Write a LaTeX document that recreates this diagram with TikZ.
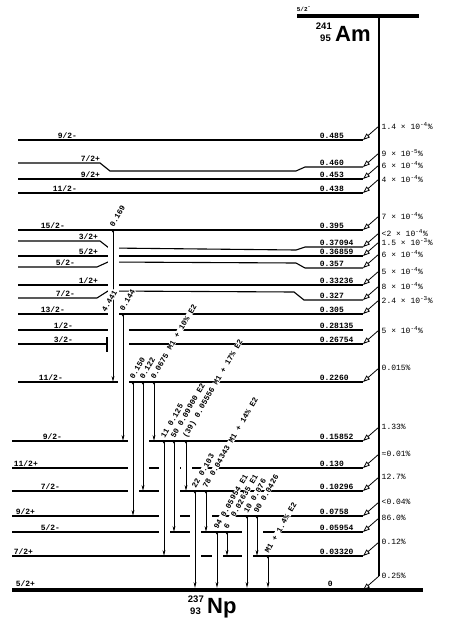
\documentclass[tikz,border=0pt]{standalone}
\usepackage{fontspec}
\newfontfamily\typ{Liberation Mono}
\newfontfamily\hel{Liberation Sans}
\usetikzlibrary{arrows.meta}

\begin{document}
\begin{tikzpicture}[x=1pt,y=-1pt,
  lev/.style={line width=1.1},
  gnd/.style={line width=4.5},
  halo/.style={white,line width=11},
  gam/.style={line width=0.8,{Triangle[reversed,length=2.6pt,width=3.8pt]}-{Stealth[length=6pt,width=2.8pt]}},
  feed/.style={line width=0.8,-{Triangle[open,length=7pt,width=5pt,line width=0.8pt]}},
  spn/.style={font=\typ\bfseries\fontsize{8}{9}\selectfont,anchor=south west,inner sep=0.6pt},
  pct/.style={font=\typ\fontsize{8}{9}\selectfont,anchor=west,inner sep=0.5pt},
  glab/.style={font=\typ\bfseries\fontsize{7.8}{9}\selectfont,rotate=60,anchor=south west,
    fill=white,inner sep=0.3pt,text height=5.2pt,text depth=0pt},
  nuc/.style={font=\hel\bfseries\fontsize{22}{24}\selectfont,inner sep=0},
  iso/.style={font=\hel\bfseries\fontsize{9.5}{10}\selectfont,inner sep=0}]
\useasboundingbox (0,0) rectangle (448,624);
% ---------- 241Am ----------
\draw[gnd,line width=4] (297,16) -- (419,16);
\node[spn,font=\typ\bfseries\fontsize{6}{7}\selectfont] (jam) at (296,12) {5/2\textsuperscript{-}};
\node[nuc,anchor=base west] (am) at (335,41) {Am};
\node[iso,anchor=base east] (ama) at (332,29) {241};
\node[iso,anchor=base east] (amz) at (331,41) {95};
\draw[line width=1.2] (379,16) -- (379,576);
% ---------- levels ----------
\foreach \y in {140,179,193,230,256,285,314,330,344,382}
  \draw[lev] (18,\y) -- (363,\y);
\foreach \y in {441,468,491,516,532,556}
  \draw[lev] (12,\y) -- (363,\y);
\draw[lev] (18,163) -- (100,163) -- (110,171) -- (296,171) -- (305,167) -- (363,167);
\draw[lev] (18,241) -- (100,241) -- (109,248) -- (296,250) -- (305,247) -- (363,247);
\draw[lev] (18,267) -- (97,267) -- (108,262) -- (296,263) -- (305,268) -- (363,268);
\draw[lev] (18,298) -- (97,298) -- (108,291) -- (294,292) -- (304,300) -- (363,300);
\draw[gnd] (12,590) -- (423,590);
% ---------- feeding from 241Am ----------
\foreach \y/\p in {140/{1.4 × 10\textsuperscript{-4}\%},167/{9 × 10\textsuperscript{-5}\%},
    179/{6 × 10\textsuperscript{-4}\%},193/{4 × 10\textsuperscript{-4}\%},230/{7 × 10\textsuperscript{-4}\%},
    247/{<2 × 10\textsuperscript{-4}\%},256/{1.5 × 10\textsuperscript{-3}\%},268/{6 × 10\textsuperscript{-4}\%},
    285/{5 × 10\textsuperscript{-4}\%},300/{8 × 10\textsuperscript{-4}\%},314/{2.4 × 10\textsuperscript{-3}\%},
    344/{5 × 10\textsuperscript{-4}\%},382/{0.015\%},441/{1.33\%},468/{≈0.01\%},491/{12.7\%},
    516/{<0.04\%},532/{86.0\%},556/{0.12\%},590/{0.25\%}}{
  \draw[feed] (379,\y-14) -- (363,\y);
  \node[pct] (p\y) at (381,\y-14) {\p};}
% ---------- gamma lines (white gaps first) ----------
\foreach \x/\a/\b in {113/230/382,123/314/441,133/382/516,143/382/491,154/382/441,
    164/441/556,174/441/532,186/441/491,195/491/588,206/491/532,217/532/588,
    227/532/556,247/516/588,257/516/556,268/556/588}
  \draw[halo] (\x,\a+3) -- (\x,\b-3);
\draw[lev] (107,337) -- (107,352);
\foreach \x/\a/\b in {113/230/382,123/314/441,133/382/516,143/382/491,154/382/441,
    164/441/556,174/441/532,186/441/491,195/491/588,206/491/532,217/532/588,
    227/532/556,247/516/588,257/516/556,268/556/588}
  \draw[gam] (\x,\a) -- (\x,\b);
\foreach \x/\a/\t in {113/230/0.169,123/314/0.144,133/382/0.150,143/382/0.122,
    154/382/{0.0675 M1 + 10\% E2},164/441/{11 0.125},174/441/{50 0.09900 E2},
    186/441/{(39) 0.05556 M1 + 17\% E2},195/491/{22 0.103},206/491/{78 0.04343 M1 + 14\% E2},
    217/532/{94 0.05954 E1},227/532/{6~~0.02635 E1},247/516/{10 0.076},257/516/{90 0.0426},
    268/556/{M1 + 1.4\% E2}}
  \node[glab] (g\x) at (\x+1,\a-2) {\t};
\node[glab] (gx) at (106,313) {4.441};
% ---------- spins and energies ----------
\foreach \n/\x/\y/\s in {485/57/140/{9/2-},460/80/163/{7/2+},453/80/179/{9/2+},438/52/193/{11/2-},
    395/40/230/{15/2-},37094/78/241/{3/2+},36859/78/256/{5/2+},357/55/267/{5/2-},
    33236/78/285/{1/2+},327/55/298/{7/2-},305/40/314/{13/2-},28135/53/330/{1/2-},
    26754/53/344/{3/2-},2260/38/382/{11/2-},15852/42/441/{9/2-},130/13/468/{11/2+},
    10296/40/491/{7/2-},0758/15/516/{9/2+},05954/40/532/{5/2-},03320/13/556/{7/2+},0/15/588/{5/2+}}
  \node[spn] (j\n) at (\x,\y-1) {\s};
\foreach \n/\y/\e in {485/140/0.485,460/167/0.460,453/179/0.453,438/193/0.438,395/230/0.395,
    37094/247/0.37094,36859/256/0.36859,357/268/0.357,33236/285/0.33236,327/300/0.327,
    305/314/0.305,28135/330/0.28135,26754/344/0.26754,2260/382/0.2260,15852/441/0.15852,
    130/468/0.130,10296/491/0.10296,0758/516/0.0758,05954/532/0.05954,03320/556/0.03320}
  \node[spn] (e\n) at (319,\y-1) {\e};
\node[spn] (e0) at (327,587) {0};
% ---------- 237Np ----------
\node[nuc,anchor=base west] (np) at (207,613) {Np};
\node[iso,anchor=base east] (npa) at (204,602) {237};
\node[iso,anchor=base east] (npz) at (201,614) {93};
\end{tikzpicture}
\end{document}
